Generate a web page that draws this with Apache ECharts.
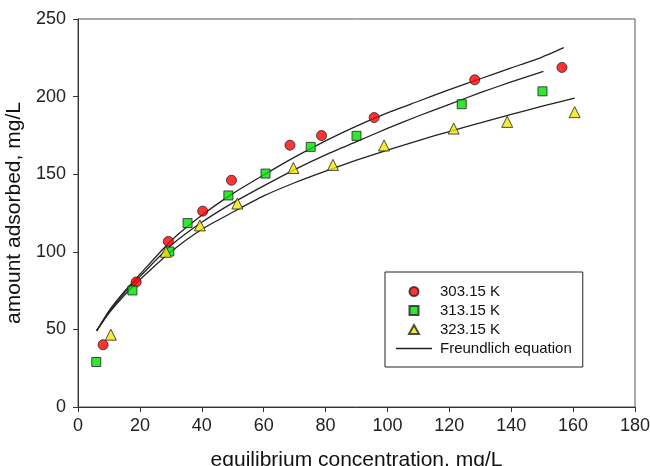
<!DOCTYPE html>
<html>
<head>
<meta charset="utf-8">
<script src="https://cdn.jsdelivr.net/npm/echarts@6/dist/echarts.min.js"></script>
<style>html,body{margin:0;padding:0;background:#fff;}#c{width:650px;height:466px;}</style>
</head>
<body>
<div id="c"></div>
<script>
// measured points
var x303 = [8.1, 18.8, 29.2, 40.3, 49.6, 68.5, 78.7, 95.7, 128.2, 156.4];
var y303 = [40.1, 80.5, 106.7, 126.2, 146.1, 168.7, 174.9, 186.5, 210.8, 218.8];
var x313 = [5.9, 17.6, 29.5, 35.4, 48.6, 60.6, 75.2, 90.0, 124.0, 150.1];
var y313 = [29, 75.1, 100.2, 118.5, 136.3, 150.4, 167.6, 174.7, 195.1, 203.4];
var x323 = [10.6, 28.4, 39.4, 51.5, 69.6, 82.4, 98.9, 121.4, 138.7, 160.5];
var y323 = [46.6, 100, 117, 131.1, 154, 156, 168.5, 179.4, 183.7, 190];
// Freundlich curves
var fitTopX = [6, 10, 15, 20, 30, 40, 50, 60, 70, 80, 90, 100, 110, 120, 130, 140, 150, 157];
var fitTopY = [49, 62, 74.5, 85.5, 107, 123.5, 137.5, 149.5, 161, 171.5, 181, 189.5, 197, 204.5, 211.5, 218.5, 225.5, 231.5];
var fitMidX = [6, 10, 15, 20, 30, 40, 50, 60, 70, 80, 90, 100, 110, 120, 130, 140, 150.4];
var fitMidY = [49, 61, 73.5, 84, 104, 119, 131.5, 142.5, 153, 162.5, 171, 179.5, 187.5, 195, 202.5, 209.5, 216.3];
var fitBotX = [6, 10, 15, 20, 30, 40, 50, 60, 70, 80, 90, 100, 110, 120, 130, 140, 150, 160.5];
var fitBotY = [49, 60.5, 72, 82, 100, 114.5, 125.5, 136, 144.5, 152, 159, 165.5, 171.7, 177.5, 183, 188.5, 193.8, 199];
var seriesNames = ['303.15 K', '313.15 K', '323.15 K', 'Freundlich equation'];
var xTicks = [0, 20, 40, 60, 80, 100, 120, 140, 160, 180];
var yTicks = [0, 50, 100, 150, 200, 250];

function pairs(xs, ys) { return xs.map(function (v, i) { return [v, ys[i]]; }); }

var FONT = 'Arial, "Liberation Sans", sans-serif';
var chart = echarts.init(document.getElementById('c'), null, {renderer: 'canvas'});
var fitLine = function (xs, ys) {
  return {
    name: seriesNames[3], type: 'line', data: pairs(xs, ys), smooth: 0.2,
    symbol: 'none', silent: true, z: 2,
    lineStyle: {color: '#222', width: 1.3}, itemStyle: {color: '#222'}
  };
};
chart.setOption({
  animation: false,
  backgroundColor: '#fff',
  grid: {left: 78, right: 15, top: 19, bottom: 59, show: true, borderColor: '#555', borderWidth: 1, outerBoundsMode: 'none', containLabel: false},
  xAxis: {
    type: 'value', min: xTicks[0], max: xTicks[xTicks.length - 1], interval: 20,
    name: 'equilibrium concentration, mg/L', nameLocation: 'middle', nameGap: 43,
    nameTextStyle: {fontFamily: FONT, fontSize: 21, color: '#111'},
    axisLine: {show: true, lineStyle: {color: '#333', width: 1}},
    axisTick: {show: true, inside: false, length: 5, lineStyle: {color: '#333'}},
    axisLabel: {fontFamily: FONT, fontSize: 18, color: '#222', margin: 10, showMaxLabel: true, showMinLabel: true},
    splitLine: {show: false}
  },
  yAxis: {
    type: 'value', min: yTicks[0], max: yTicks[yTicks.length - 1], interval: 50,
    name: 'amount adsorbed, mg/L', nameLocation: 'middle', nameGap: 48,
    nameTextStyle: {fontFamily: FONT, fontSize: 21, color: '#111'},
    axisLine: {show: true, lineStyle: {color: '#333', width: 1}},
    axisTick: {show: true, inside: false, length: 5, lineStyle: {color: '#333'}},
    axisLabel: {fontFamily: FONT, fontSize: 18, color: '#222', margin: 12},
    splitLine: {show: false}
  },
  legend: {
    data: [
      {name: seriesNames[0], icon: 'circle'},
      {name: seriesNames[1], icon: 'path://M0,0h10v10h-10z'},
      {name: seriesNames[2], icon: 'path://M5,0L10,9L0,9z'},
      {name: seriesNames[3], icon: 'path://M0,0h36v1.3h-36z'}
    ],
    orient: 'vertical', left: 385, top: 272,
    itemWidth: 36, itemHeight: 9, itemGap: 4, symbolKeepAspect: true,
    padding: [12, 11, 11, 11],
    borderColor: '#222', borderWidth: 1, backgroundColor: '#fff',
    textStyle: {fontFamily: FONT, fontSize: 15, color: '#111', padding: [0, 0, 0, 3]},
    selectedMode: false
  },
  series: [
    {name: seriesNames[0], type: 'scatter', data: pairs(x303, y303), symbol: 'circle', symbolSize: 10, z: 3,
      itemStyle: {color: '#ff0000', borderColor: '#222', borderWidth: 1}},
    {name: seriesNames[1], type: 'scatter', data: pairs(x313, y313), symbol: 'rect', symbolSize: 9, z: 3,
      itemStyle: {color: '#00e000', borderColor: '#222', borderWidth: 1}},
    {name: seriesNames[2], type: 'scatter', data: pairs(x323, y323), symbol: 'triangle', symbolSize: 11, z: 3,
      itemStyle: {color: '#f5e600', borderColor: '#222', borderWidth: 1}},
    fitLine(fitTopX, fitTopY),
    fitLine(fitMidX, fitMidY),
    fitLine(fitBotX, fitBotY)
  ]
});
</script>
</body>
</html>
